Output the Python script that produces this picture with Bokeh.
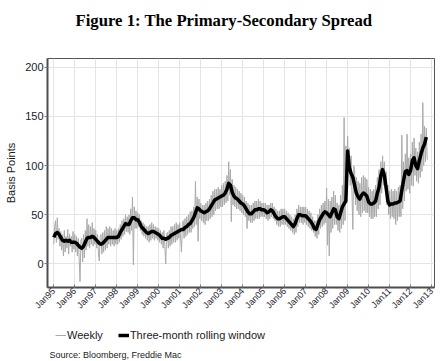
import math
import numpy as np
from bokeh.plotting import figure
from bokeh.layouts import column
from bokeh.models import (FixedTicker, Legend, LegendItem, ColumnDataSource, Range1d, Title, Label)
from bokeh.embed import file_html
from bokeh.resources import INLINE

# ---- data ----
tick_years = list(range(1995, 2014))
tick_labels = ["Jan95", "Jan96", "Jan97", "Jan98", "Jan99", "Jan00", "Jan01", "Jan02",
               "Jan03", "Jan04", "Jan05", "Jan06", "Jan07", "Jan08", "Jan09", "Jan10",
               "Jan11", "Jan12", "Jan13"]
y_ticks = [0, 50, 100, 150, 200]

# spread sampled twice a month (basis points), Jan 1995 - Oct 2012
weekly = [
    20, 38, 44, 22, 47, 25, 36, 18, 33, 14, 30, 8, 34, 12, 28, 16, 35, 10, 30, 18, 28, 12, 33, 15,      # 1995
    30, 12, 28, 8, 26, 6, -18, 24, 26, 2, 30, 6, 34, 14, 46, 18, 40, 16, 38, 20, 42, 18, 36, 20,      # 1996
    34, 16, 30, 12, 3, 28, 30, 10, 32, 12, 34, 14, 38, 16, 36, 20, 38, 18, 36, 20, 34, 18, 36, 20,    # 1997
    34, 20, 36, 22, 40, 25, 44, 28, 46, 30, 50, 33, 48, 32, 50, 30, 56, 34, 68, -1, 58, 36, 54, 36,   # 1998
    52, 38, 50, 34, 44, 30, 42, 28, 40, 26, 38, 24, 38, 22, 40, 24, 42, 26, 40, 24, 38, 26, 37, 24,   # 1999
    36, 22, 34, 20, 32, 16, 34, 18, 0, 30, 32, 16, 34, 18, 38, 20, 38, 22, 40, 22, 42, 24, 40, 26,    # 2000
    42, 26, 12, 40, 44, 26, 46, 28, 48, 30, 50, 32, 53, 32, 54, 36, 58, 38, 84, 40, 68, 23, 66, 46,   # 2001
    62, 44, 60, 42, 60, 40, 62, 44, 64, 44, 66, 46, 70, 48, 74, 50, 76, 54, 76, 56, 78, 56, 76, 58,   # 2002
    80, 58, 82, 60, 84, 62, 90, 64, 104, 70, 96, 43, 86, 60, 80, 58, 78, 56, 76, 56, 74, 54, 72, 52,  # 2003
    70, 50, 68, 48, 64, 36, 62, 44, 60, 42, 60, 42, 62, 44, 64, 46, 64, 46, 66, 46, 64, 48, 62, 48,   # 2004
    62, 48, 62, 46, 60, 44, 60, 46, 62, 48, 62, 46, 58, 44, 56, 40, 54, 38, 54, 38, 56, 40, 56, 40,   # 2005
    56, 40, 54, 38, 52, 36, 50, 34, 48, 32, 46, 30, 50, 32, 56, 38, 60, 42, 58, 42, 58, 40, 58, 42,   # 2006
    58, 40, 56, 38, 54, 36, 52, 34, 48, 32, 44, 28, 44, 26, 50, 30, 56, 36, 60, 38, 62, 40, 64, 42,   # 2007
    77, 19, 66, 8, 64, 32, 68, 36, 74, 40, 70, 40, 62, 34, 60, 32, 70, 36, 80, 40, 149, 44, 120, 90,  # 2008
    130, 96, 118, 80, 110, 72, 35, 100, 96, 60, 88, 54, 84, 50, 82, 48, 88, 52, 90, 54, 88, 52, 86, 52,  # 2009
    78, 48, 76, 46, 74, 46, 76, 48, 80, 48, 88, 56, 96, 60, 104, 72, 110, 80, 104, 76, 94, 60, 80, 50,   # 2010
    74, 46, 76, 48, 74, 46, 76, 40, 74, 44, 78, 48, 80, 48, 131, 56, 104, 64, 112, 74, 132, 76, 108, 72, # 2011
    112, 80, 124, 79, 128, 90, 118, 84, 114, 82, 124, 88, 132, 94, 164, 100, 140, 104, 138, 106,         # 2012
]

# three-month rolling window, monthly, Jan 1995 - Oct 2012
rolling = [
    27, 31, 32, 30, 27, 24, 23, 24, 23, 24, 22, 22,      # 1995
    22, 21, 19, 17, 16, 18, 22, 26, 27, 27, 28, 27,      # 1996
    25, 23, 21, 20, 21, 23, 25, 27, 27, 27, 27, 27,      # 1997
    27, 28, 32, 35, 38, 41, 40, 40, 44, 47, 47, 45,      # 1998
    45, 42, 38, 36, 34, 32, 31, 32, 33, 33, 32, 31,      # 1999
    30, 28, 26, 26, 25, 26, 27, 29, 30, 31, 32, 33,      # 2000
    34, 35, 35, 37, 38, 40, 41, 44, 47, 52, 57, 56,      # 2001
    54, 53, 52, 53, 54, 56, 59, 62, 65, 66, 67, 68,      # 2002
    69, 70, 72, 76, 82, 80, 73, 69, 67, 66, 64, 62,      # 2003
    61, 59, 56, 53, 51, 51, 53, 55, 55, 56, 56, 55,      # 2004
    55, 54, 52, 53, 55, 54, 51, 48, 46, 46, 47, 48,      # 2005
    48, 46, 44, 42, 40, 38, 41, 46, 50, 50, 49, 49,      # 2006
    49, 47, 45, 43, 40, 36, 35, 40, 45, 48, 51, 53,      # 2007
    52, 50, 48, 52, 56, 55, 48, 46, 52, 58, 61, 64,      # 2008
    115, 98, 92, 88, 80, 72, 68, 66, 70, 72, 71, 69,     # 2009
    63, 61, 61, 62, 64, 72, 78, 90, 96, 90, 78, 64,      # 2010
    60, 61, 61, 62, 62, 63, 64, 75, 85, 94, 95, 91,      # 2011
    95, 105, 108, 100, 97, 105, 112, 118, 122, 129,      # 2012
]

series_names = ["Weekly", "Three-month rolling window"]
source_note = "Source: Bloomberg, Freddie Mac"
chart_title = "Figure 1: The Primary-Secondary Spread"

# time axis (decimal years)
weekly_t = 1995 + np.arange(len(weekly)) / 24.0
rolling_t = 1995 + np.arange(len(rolling)) / 12.0

wsrc = ColumnDataSource(dict(t=weekly_t, v=weekly))
rsrc = ColumnDataSource(dict(t=rolling_t, v=rolling))

WEEKLY_STYLE = dict(line_color="#ababab", line_width=1)
ROLL_STYLE = dict(line_color="black", line_width=3.5, line_join="round")

p = figure(width=443, height=317, output_backend="svg", toolbar_location=None,
           x_range=Range1d(1994.7, 2013.14), y_range=Range1d(-24, 209),
           min_border_left=47, min_border_right=9, min_border_top=58, min_border_bottom=30)

p.line("t", "v", source=wsrc, **WEEKLY_STYLE)
p.line("t", "v", source=rsrc, **ROLL_STYLE)

# title (spacer nearest the frame, then the title itself)
spacer = Title(text=" ", text_font_size="1px", standoff=26)
p.add_layout(spacer, "above")
main_title = Title(text=chart_title, align="left", offset=28,
                   vertical_align="bottom", standoff=0,
                   text_font="Liberation Serif", text_font_style="bold",
                   text_font_size="16.7px", text_color="black")
p.add_layout(main_title, "above")

# axes
p.xaxis.ticker = FixedTicker(ticks=tick_years)
p.xaxis.major_label_overrides = {y: l for y, l in zip(tick_years, tick_labels)}
p.xaxis.major_label_orientation = math.pi / 4
p.xaxis.major_label_text_font = "Liberation Sans"
p.xaxis.major_label_text_font_size = "9px"
p.xaxis.major_label_text_color = "#1a1a2a"
p.xaxis.major_label_standoff = 2
p.xaxis.major_tick_in = 3
p.xaxis.major_tick_out = 0
p.xaxis.minor_tick_line_color = None

p.yaxis.ticker = FixedTicker(ticks=y_ticks)
p.yaxis.major_label_text_font = "Liberation Sans"
p.yaxis.major_label_text_font_size = "11px"
p.yaxis.major_label_text_color = "#1a1a2a"
p.yaxis.major_label_standoff = 1
p.yaxis.major_tick_in = 0
p.yaxis.major_tick_out = 3
p.yaxis.minor_tick_line_color = None
p.yaxis.axis_label = "Basis Points"
p.yaxis.axis_label_text_font = "Liberation Sans"
p.yaxis.axis_label_text_font_size = "11px"
p.yaxis.axis_label_text_font_style = "normal"
p.yaxis.axis_label_text_color = "#1a1a1a"
p.yaxis.axis_label_standoff = 5

for ax in (p.xaxis, p.yaxis):
    ax.axis_line_color = "#4d4d4d"
    ax.axis_line_width = 2
    ax.major_tick_line_color = "#777777"

p.xgrid.ticker = FixedTicker(ticks=tick_years)
p.ygrid.ticker = FixedTicker(ticks=y_ticks)
p.grid.grid_line_color = "#e4e4e4"
p.grid.grid_line_width = 1
p.outline_line_color = "#555555"
p.outline_line_width = 1

# ---- strip under the chart: legend + source note (frame aligned with the chart's) ----
q = figure(width=443, height=44, output_backend="svg", toolbar_location=None,
           x_range=Range1d(0, 1), y_range=Range1d(0, 1),
           x_axis_type=None, y_axis_type=None,
           min_border_left=47, min_border_right=9, min_border_top=0, min_border_bottom=0)
q.grid.visible = False
q.outline_line_color = None
# same series, out of this strip's view: only used for the legend swatches
kw = q.line("t", "v", source=wsrc, **WEEKLY_STYLE)
kr = q.line("t", "v", source=rsrc, **ROLL_STYLE)

legend = Legend(items=[LegendItem(label=series_names[0], renderers=[kw]),
                       LegendItem(label=series_names[1], renderers=[kr])],
                orientation="horizontal", location=(8, 20),
                label_text_font="Liberation Sans", label_text_font_size="11px",
                label_text_color="#1a1a1a",
                glyph_width=11, glyph_height=12, label_height=12, label_standoff=1,
                spacing=15, padding=0, margin=0,
                border_line_alpha=0, background_fill_alpha=0)
q.add_layout(legend, "center")

q.add_layout(Label(x=2, y=7, x_units="screen", y_units="screen", text=source_note,
                   text_font="Liberation Sans", text_font_size="9px",
                   text_align="left", text_baseline="middle", text_color="#1a1a1a"))

layout = column(p, q, spacing=0)
open("out.html", "w").write(file_html(layout, INLINE))
